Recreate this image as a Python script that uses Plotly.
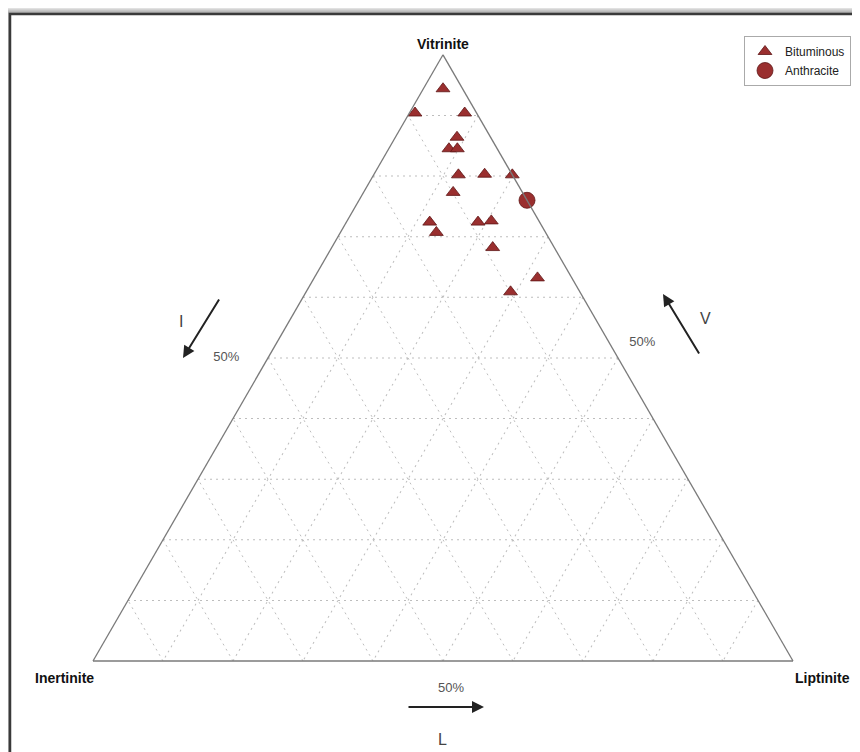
import plotly.graph_objects as go

# Bituminous samples (fractions)
bit_vitrinite = [0.944, 0.904, 0.904, 0.864, 0.845, 0.845, 0.802, 0.803, 0.802, 0.773, 0.724, 0.707, 0.724, 0.726, 0.682, 0.632, 0.609]
bit_inertinite = [0.028, 0.088, 0.017, 0.048, 0.069, 0.057, 0.077, 0.039, 0.000, 0.099, 0.157, 0.156, 0.088, 0.068, 0.088, 0.049, 0.099]
bit_liptinite = [0.028, 0.008, 0.079, 0.088, 0.086, 0.098, 0.121, 0.158, 0.198, 0.128, 0.119, 0.137, 0.188, 0.206, 0.230, 0.319, 0.292]

# Anthracite sample
ant_vitrinite = [0.76]
ant_inertinite = [0.00]
ant_liptinite = [0.24]

tick_vals = [0.1, 0.2, 0.3, 0.4, 0.5, 0.6, 0.7, 0.8, 0.9]
tick_text = ["", "", "", "", "50%", "", "", "", ""]

W, H = 860, 752
OFF = 8  # page body margin
def px(x):
    return (x - OFF) / W
def py(y):
    return 1 - (y - OFF) / H

FILL = "#9a2f2f"
EDGE = "#5e1515"
FONT = "Liberation Sans, Arial"

fig = go.Figure()
fig.add_trace(go.Scatterternary(
    a=bit_vitrinite, b=bit_inertinite, c=bit_liptinite,
    mode="markers", name="Bituminous", cliponaxis=False,
    marker=dict(symbol="triangle-up", size=12, color=FILL, line=dict(color=EDGE, width=0.8)),
))
fig.add_trace(go.Scatterternary(
    a=ant_vitrinite, b=ant_inertinite, c=ant_liptinite,
    mode="markers", name="Anthracite", cliponaxis=False,
    marker=dict(symbol="circle", size=16, color=FILL, line=dict(color=EDGE, width=0.8)),
))

axis_common = dict(
    tickmode="array", tickvals=tick_vals, ticktext=tick_text,
    ticks="outside", tickcolor="rgba(0,0,0,0)",
    showline=True, linecolor="#7a7a7a", linewidth=1.3,
    showgrid=True, gridcolor="#bdbdbd", gridwidth=1, griddash="2px,4px",
    tickfont=dict(family=FONT, size=13, color="#555"),
    min=0, title=dict(text=""),
)

shapes = []
# soft shadow around frame
for k in range(7, 0, -1):
    shapes.append(dict(type="rect", xref="paper", yref="paper",
                       x0=px(10 - k), y0=py(900), x1=px(900), y1=py(14 - k),
                       fillcolor="rgba(0,0,0,0.06)", line=dict(width=0), layer="below"))
shapes.append(dict(type="rect", xref="paper", yref="paper",
                   x0=px(10), y0=py(900), x1=px(900), y1=py(14),
                   fillcolor="white", line=dict(color="#3a3a3a", width=2.5), layer="below"))

arrow_style = dict(xref="paper", yref="paper", text="", showarrow=True, arrowhead=2,
                   arrowsize=1.2, arrowwidth=2, arrowcolor="#222", standoff=0)
txt = dict(xref="paper", yref="paper", showarrow=False, xanchor="center", yanchor="middle")
letter_font = dict(family=FONT, size=16, color="#444")
title_font = dict(family=FONT, size=14, color="#111")

annotations = [
    dict(x=px(183), y=py(358), ax=37, ay=-60, **arrow_style),
    dict(x=px(663), y=py(294), ax=37, ay=61, **arrow_style),
    dict(x=px(484), y=py(707), ax=-77, ay=0, **arrow_style),
    dict(x=px(181), y=py(321), text="I", font=letter_font, **txt),
    dict(x=px(705), y=py(318), text="V", font=letter_font, **txt),
    dict(x=px(442), y=py(739), text="L", font=letter_font, **txt),
    dict(x=px(443), y=py(44), text="<b>Vitrinite</b>", font=title_font, **txt),
    dict(x=px(64), y=py(678), text="<b>Inertinite</b>", font=title_font, **txt),
    dict(x=px(822), y=py(678), text="<b>Liptinite</b>", font=title_font, **txt),
]

fig.update_layout(
    width=W, height=H,
    margin=dict(l=0, r=0, t=0, b=0),
    paper_bgcolor="white",
    font=dict(family=FONT, size=12, color="#222"),
    ternary=dict(
        sum=1,
        bgcolor="rgba(0,0,0,0)",
        domain=dict(x=[px(93), px(793)], y=[py(661), py(54.8)]),
        aaxis=dict(ticklen=26, **axis_common),
        baxis=dict(ticklen=16, **axis_common),
        caxis=dict(ticklen=17, **axis_common),
    ),
    showlegend=True,
    legend=dict(x=px(744), y=py(36), xanchor="left", yanchor="top",
                bgcolor="white", bordercolor="#aaa", borderwidth=1,
                font=dict(family=FONT, size=12, color="#222"),
                itemwidth=30, tracegroupgap=0),
    shapes=shapes,
    annotations=annotations,
)

fig.write_html("out.html")
